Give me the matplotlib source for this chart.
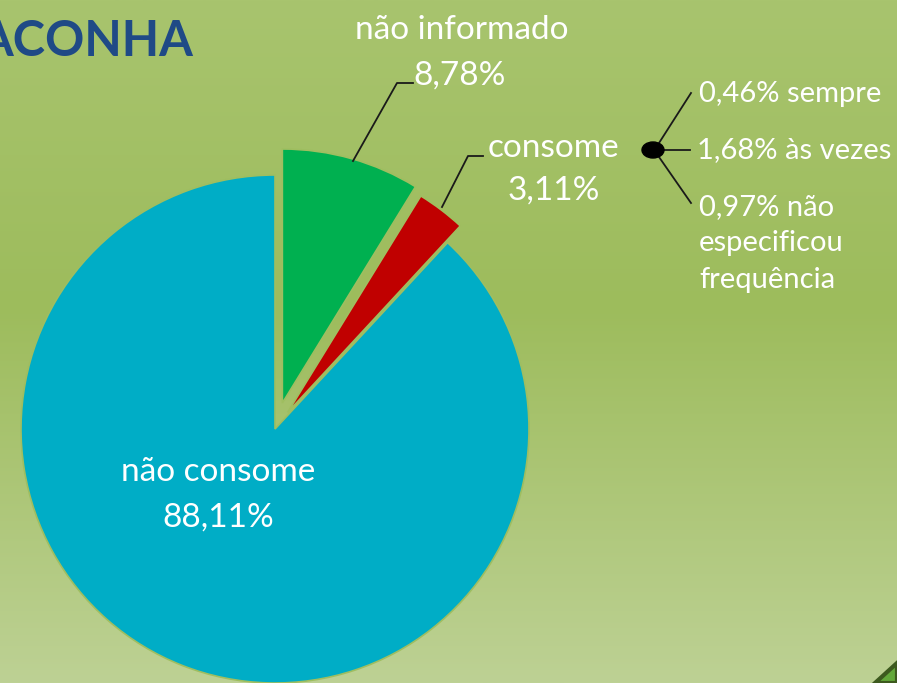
import numpy as np
import matplotlib.pyplot as plt
from matplotlib.colors import LinearSegmentedColormap
from matplotlib.patches import Ellipse, Polygon

W, H = 897, 683

# pie data
labels = ["não informado", "consome", "não consome"]
values = [8.78, 3.11, 88.11]
value_text = ["8,78%", "3,11%", "88,11%"]
colors = ["#00b050", "#c00000", "#00adc6"]

# breakdown of "consome"
freq_text = ["0,46% sempre", "1,68% às vezes", "0,97% não\nespecificou\nfrequência"]

plt.rcParams['font.family'] = ['Lato', 'DejaVu Sans']

fig = plt.figure(figsize=(W / 100, H / 100), dpi=100)
ax = fig.add_axes([0, 0, 1, 1])


def py(y):
    # pixel row (from top) -> data y
    return H - y


# background gradient
bg = LinearSegmentedColormap.from_list(
    "bg", [(0, "#a8c46e"), (0.45, "#9dbc5c"), (1, "#bdd194")])
grad = np.linspace(0, 1, 256).reshape(-1, 1)
ax.imshow(grad, cmap=bg, extent=(0, W, 0, H), aspect='auto', zorder=0)

# decorative corner
ax.add_patch(Polygon([(875, 0), (897, py(663)), (897, 0)],
                     closed=True, fc="#63a83a", ec="#3d5a1e", lw=3, zorder=1))

wedges, _ = ax.pie(values, colors=colors, startangle=90, counterclock=False,
                   explode=[27, 21, 0], radius=254, center=(275, py(429)),
                   wedgeprops=dict(edgecolor="#9fbe60", linewidth=1.2))
for w in wedges:
    w.set_zorder(2)

# title (cut at the left edge in the original too)
ax.text(193, py(42), "ACONHA", ha='right', va='center', fontsize=35,
        fontweight='bold', color="#1f4a86", zorder=3)

lab = dict(color='white', fontsize=24, ha='center', va='center', zorder=3)
ax.text(462, py(30), labels[0], **lab)
ax.text(460, py(76), value_text[0], **lab)
ax.text(553, py(148), labels[1], **lab)
ax.text(554, py(191), value_text[1], **lab)
ax.text(218, py(472), labels[2], **lab)
ax.text(218, py(518), value_text[2], **lab)

# leader lines
ln = dict(color="#1a1a1a", lw=1.3, zorder=3)
ax.plot([353, 397, 413], [py(161), py(83), py(83)], **ln)
ax.plot([442, 468, 483], [py(207), py(156), py(156)], **ln)

# breakdown bracket
ax.add_patch(Ellipse((653, py(150)), 22, 16, color='black', zorder=4))
ax.plot([659, 691], [py(143), py(93)], **ln)
ax.plot([653, 690], [py(150), py(150)], **ln)
ax.plot([659, 691], [py(157), py(203)], **ln)

small = dict(color='white', fontsize=21, ha='left', zorder=3)
ax.text(699, py(94), freq_text[0], va='center', **small)
ax.text(697, py(150), freq_text[1], va='center', **small)
ax.text(699, py(194), freq_text[2], va='top', linespacing=1.5, **small)

ax.set_xlim(0, W)
ax.set_ylim(0, H)
ax.set_aspect('equal', adjustable='box')
ax.set_axis_off()

fig.savefig("out.png", dpi=100)
